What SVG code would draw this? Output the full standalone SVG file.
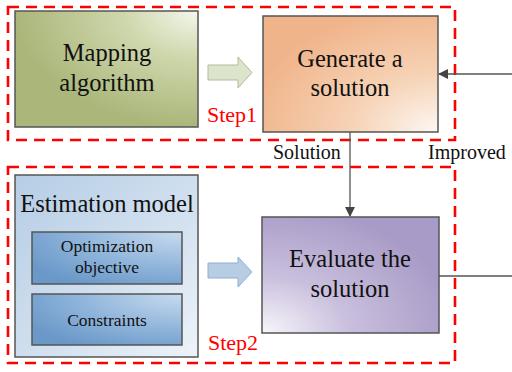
<svg xmlns="http://www.w3.org/2000/svg" width="512" height="372" viewBox="0 0 512 372">
<defs>
<radialGradient id="gGreen" cx="1" cy="0" r="1">
<stop offset="0" stop-color="#f4f7ec"/><stop offset="0.4" stop-color="#cfd8ad"/><stop offset="1" stop-color="#aab67a"/>
</radialGradient>
<radialGradient id="gOrange" cx="1" cy="1" r="1.1">
<stop offset="0" stop-color="#fdf7f2"/><stop offset="0.45" stop-color="#f6d3b6"/><stop offset="1" stop-color="#f0b48a"/>
</radialGradient>
<radialGradient id="gPurple" cx="0" cy="1" r="1.1">
<stop offset="0" stop-color="#f8f6fb"/><stop offset="0.45" stop-color="#c9bfdd"/><stop offset="1" stop-color="#a99bc7"/>
</radialGradient>
<linearGradient id="gBlueOuter" x1="0" y1="0" x2="1" y2="1">
<stop offset="0" stop-color="#b5cde5"/><stop offset="0.6" stop-color="#d4e2f0"/><stop offset="1" stop-color="#edf3f9"/>
</linearGradient>
<radialGradient id="gBlueInner" cx="1" cy="0" r="1.2">
<stop offset="0" stop-color="#c8dbee"/><stop offset="0.6" stop-color="#8db3da"/><stop offset="1" stop-color="#6a98c8"/>
</radialGradient>
<marker id="arr" markerWidth="10" markerHeight="10" refX="9" refY="5" orient="auto" markerUnits="userSpaceOnUse">
<path d="M0,0 L10,5 L0,10 z" fill="#444"/>
</marker>
</defs>
<g font-family="Liberation Serif" fill="#111">
<g id="step1-frame">
<rect x="8" y="7" width="447" height="133" fill="none" stroke="#ff0000" stroke-width="2.6" stroke-dasharray="11 7"/>
<text x="207" y="122" font-size="22" fill="#ff0000">Step1</text>
</g>
<g id="step2-frame">
<rect x="8" y="167" width="447" height="196" fill="none" stroke="#ff0000" stroke-width="2.6" stroke-dasharray="11 7"/>
<text x="208" y="350" font-size="22" fill="#ff0000">Step2</text>
</g>

<g id="mapping" font-size="24.5" text-anchor="middle">
<rect x="15" y="11" width="183" height="116" fill="url(#gGreen)" stroke="#555" stroke-width="1.5"/>
<text x="107" y="61">Mapping</text>
<text x="107" y="91">algorithm</text>
</g>

<g id="generate" font-size="24.5" text-anchor="middle">
<rect x="263" y="16" width="175" height="116" fill="url(#gOrange)" stroke="#555" stroke-width="1.5"/>
<text x="350" y="67">Generate a</text>
<text x="350" y="96">solution</text>
</g>

<g id="estimation" text-anchor="middle">
<rect x="15" y="175" width="183" height="182" fill="url(#gBlueOuter)" stroke="#555" stroke-width="1.5"/>
<text x="107" y="212" font-size="24.5">Estimation model</text>
<g id="objective" font-size="17.5">
<rect x="32" y="232" width="150" height="52" fill="url(#gBlueInner)" stroke="#555" stroke-width="1.5"/>
<text x="107" y="252">Optimization</text>
<text x="107" y="273">objective</text>
</g>
<g id="constraints" font-size="17.5">
<rect x="32" y="294" width="150" height="51" fill="url(#gBlueInner)" stroke="#555" stroke-width="1.5"/>
<text x="107" y="326">Constraints</text>
</g>
</g>

<g id="evaluate" font-size="24.5" text-anchor="middle">
<rect x="262" y="217" width="177" height="116" fill="url(#gPurple)" stroke="#555" stroke-width="1.5"/>
<text x="350" y="267">Evaluate the</text>
<text x="350" y="297">solution</text>
</g>

<g id="connectors">
<path d="M208,65 H238 V57 L252,72.5 L238,88 V80 H208 z" fill="#dde4cc" stroke="#b3bb9c" stroke-width="1"/>
<path d="M208,263 H238 V257 L252,272 L238,287 V278 H208 z" fill="#b6cde4" stroke="#90afcf" stroke-width="1"/>
<line x1="350" y1="132" x2="350" y2="216" stroke="#555" stroke-width="1.3" marker-end="url(#arr)"/>
<line x1="439" y1="276" x2="512" y2="276" stroke="#555" stroke-width="1.3"/>
<line x1="512" y1="74" x2="439" y2="74" stroke="#555" stroke-width="1.3" marker-end="url(#arr)"/>
<text x="273" y="159" font-size="20">Solution</text>
<text x="428" y="159" font-size="20">Improved</text>
</g>
</g>
</svg>
